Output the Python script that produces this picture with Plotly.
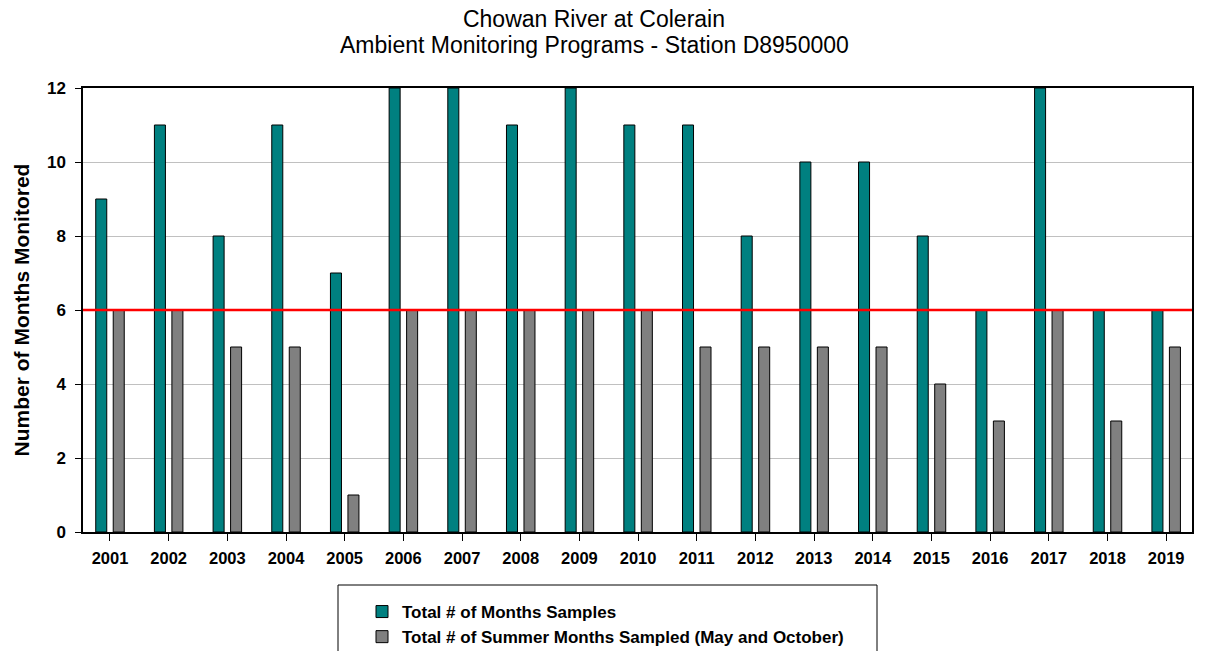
import plotly.graph_objects as go

years = [str(y) for y in range(2001, 2020)]
total_months = [9, 11, 8, 11, 7, 12, 12, 11, 12, 11, 11, 8, 10, 10, 8, 6, 12, 6, 6]
summer_months = [6, 6, 5, 5, 1, 6, 6, 6, 6, 6, 5, 5, 5, 5, 4, 3, 6, 3, 5]
threshold = 6
y_ticks = [0, 2, 4, 6, 8, 10, 12]
title_line1 = "Chowan River at Colerain"
title_line2 = "Ambient Monitoring Programs - Station D8950000"

FONT = "Liberation Sans, Arial, sans-serif"

FIG_W, FIG_H = 1227, 651
L, R, T, B = 83, 35, 88, 119
W = FIG_W - L - R
H = FIG_H - T - B

def px_x(p):
    return (p - L) / W

def px_y(p):
    return (FIG_H - B - p) / H

fig = go.Figure()
fig.add_trace(go.Bar(
    x=years, y=total_months, name="Total # of Months Samples",
    marker=dict(color="#008080", line=dict(color="#000000", width=1)),
))
fig.add_trace(go.Bar(
    x=years, y=summer_months, name="Total # of Summer Months Sampled (May and October)",
    marker=dict(color="#808080", line=dict(color="#000000", width=1)),
))

fig.add_shape(type="line", xref="paper", x0=0, x1=1, yref="y", y0=threshold, y1=threshold,
              line=dict(color="#ff0000", width=2.5), layer="above")

# legend frame (open at the bottom edge of the figure, as in the reference)
fx0, fx1, fy0, fy1 = px_x(338), px_x(877), px_y(585), px_y(FIG_H)
fig.add_shape(type="path", xref="paper", yref="paper",
              path=f"M {fx0},{fy1} L {fx0},{fy0} L {fx1},{fy0} L {fx1},{fy1}",
              line=dict(color="#000000", width=1))

# second title line
fig.add_annotation(text=title_line2, xref="paper", yref="paper",
                   x=px_x(594), y=px_y(45), xanchor="center", yanchor="middle",
                   showarrow=False, font=dict(family=FONT, size=23, color="#000000"))

fig.update_layout(
    width=FIG_W, height=FIG_H,
    margin=dict(l=L, r=R, t=T, b=B, autoexpand=False),
    paper_bgcolor="white", plot_bgcolor="white",
    font=dict(family=FONT, color="#000000"),
    barmode="group", bargap=0.404, bargroupgap=0.37,
    title=dict(
        text=title_line1,
        x=594 / FIG_W, xref="container", xanchor="center",
        y=1 - 19 / FIG_H, yref="container", yanchor="middle",
        font=dict(family=FONT, size=23, color="#000000"),
    ),
    xaxis=dict(
        type="category", range=[-0.46, 18.44],
        showline=True, linecolor="#000000", linewidth=1.5, mirror=True,
        ticks="outside", ticklen=7, tickcolor="#000000",
        tickfont=dict(family=FONT, size=16.5, color="#000000", weight="bold"),
        ticklabelstandoff=3,
        showgrid=False,
    ),
    yaxis=dict(
        range=[0, 12], tickvals=y_ticks,
        showline=True, linecolor="#000000", linewidth=1.5, mirror=True,
        ticks="outside", ticklen=6, tickcolor="#000000",
        tickfont=dict(family=FONT, size=17, color="#000000", weight="bold"),
        ticklabelstandoff=6,
        showgrid=True, gridcolor="#c0c0c0", gridwidth=1,
        zeroline=False,
        title=dict(text="Number of Months Monitored", standoff=12,
                   font=dict(family=FONT, size=21, color="#000000", weight="bold")),
    ),
    yaxis2=dict(
        overlaying="y", side="right", range=[0, 12], tickvals=y_ticks,
        showline=False, ticks="", showgrid=False, zeroline=False,
        tickfont=dict(family=FONT, size=17, color="#000000", weight="bold"),
        ticklabelstandoff=8,
    ),
    showlegend=True,
    legend=dict(
        x=px_x(362), xanchor="left", y=px_y(594), yanchor="top",
        bgcolor="rgba(0,0,0,0)", borderwidth=0,
        font=dict(family=FONT, size=17, color="#000000", weight="bold"),
        tracegroupgap=0,
    ),
)

fig.write_html(
    "out.html", config={"displayModeBar": False},
    post_script="document.documentElement.style.margin='0';document.documentElement.style.overflow='hidden';"
                "document.body.style.margin='0';document.body.style.overflow='hidden';",
)
